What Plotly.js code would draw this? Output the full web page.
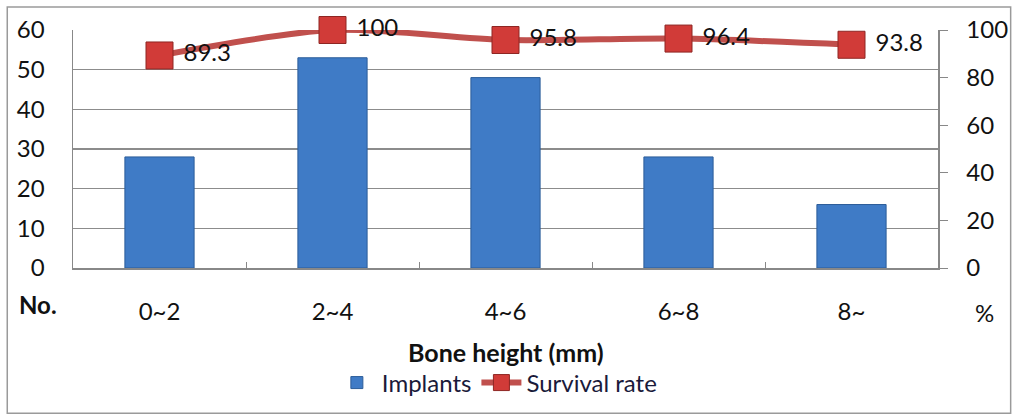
<!DOCTYPE html>
<html><head><meta charset="utf-8">
<script src="https://cdn.plot.ly/plotly-3.0.1.min.js"></script>
<style>html,body{margin:0;padding:0;background:#fff}#c{width:1014px;height:419px}</style>
</head><body><div id="c"></div>
<script>
const categories = ["0~2", "2~4", "4~6", "6~8", "8~"];
const implants = [28, 53, 48, 28, 16];
const survivalRate = [89.3, 100, 95.8, 96.4, 93.8];
const survivalLabels = ["89.3", "100", "95.8", "96.4", "93.8"];

const FONT = "Lato, 'Open Sans', sans-serif";
const bars = {
  type: "bar", name: "Implants", x: categories, y: implants,
  width: 0.4,
  marker: {color: "#3f7bc6", line: {color: "#2c5d99", width: 1}},
  yaxis: "y", hoverinfo: "skip"
};
const line = {
  type: "scatter", mode: "lines+markers+text", name: "Survival rate",
  x: categories, y: survivalRate, yaxis: "y2",
  text: survivalLabels, texttemplate: " %{text}", textposition: "middle right",
  textfont: {family: FONT, size: 24, color: "#111"},
  line: {color: "#c0504d", width: 6, shape: "spline", smoothing: 0.8},
  marker: {symbol: "square", size: 27, color: "#d13b38", line: {color: "#8e2623", width: 1}},
  cliponaxis: false
};
const layout = {
  width: 1014, height: 419,
  margin: {l: 73, r: 76, t: 30, b: 151, autoexpand: false},
  paper_bgcolor: "#fff", plot_bgcolor: "#fff",
  font: {family: FONT, size: 24, color: "#111"},
  showlegend: true,
  legend: {orientation: "h", x: 0.49, xanchor: "center", xref: "container", yref: "container", y: 0.086, yanchor: "middle",
           font: {family: FONT, size: 24, color: "#1a1a3a"}, itemwidth: 40, tracegroupgap: 0},
  bargap: 0.6,
  xaxis: {
    type: "category", showgrid: false, showline: true, linecolor: "#888", linewidth: 1.5,
    ticks: "inside", tickson: "boundaries", ticklen: 6, tickcolor: "#888",
    ticklabelstandoff: 22, tickfont: {family: FONT, size: 24, color: "#111"},
    mirror: false, zeroline: false, automargin: false
  },
  yaxis: {
    range: [0, 60], dtick: 10, showgrid: true, gridcolor: "#8c8c8c", gridwidth: 1.2,
    showline: true, linecolor: "#888", linewidth: 1.5, ticks: "", zeroline: false,
    tickfont: {family: FONT, size: 24, color: "#111"}, ticklabelstandoff: 22, automargin: false
  },
  yaxis2: {
    range: [0, 100], dtick: 20, overlaying: "y", side: "right", showgrid: false,
    showline: true, linecolor: "#888", linewidth: 1.5, ticks: "outside", ticklen: 8,
    tickcolor: "#888", zeroline: false, automargin: false,
    tickfont: {family: FONT, size: 24, color: "#111"}, ticklabelstandoff: 14
  },
  annotations: [
    {text: "<b>No.</b>", xref: "paper", yref: "paper", x: -0.041, y: -0.155, xanchor: "center", yanchor: "middle",
     showarrow: false, font: {family: FONT, size: 24, color: "#111"}},
    {text: "%", xref: "paper", yref: "paper", x: 1.054, y: -0.185, xanchor: "center", yanchor: "middle",
     showarrow: false, font: {family: FONT, size: 24, color: "#111"}},
    {text: "<b>Bone height (mm)</b>", xref: "paper", yref: "paper", x: 0.5, y: -0.353, xanchor: "center", yanchor: "middle",
     showarrow: false, font: {family: FONT, size: 25, color: "#111"}}
  ],
  shapes: [
    {type: "rect", xref: "paper", yref: "paper", x0: -0.076, x1: 1.084, y0: -0.61, y1: 1.097,
     line: {color: "#9a9a9a", width: 1.5}, fillcolor: "rgba(0,0,0,0)", layer: "below"}
  ]
};
Plotly.newPlot("c", [bars, line], layout, {staticPlot: true});
</script></body></html>
